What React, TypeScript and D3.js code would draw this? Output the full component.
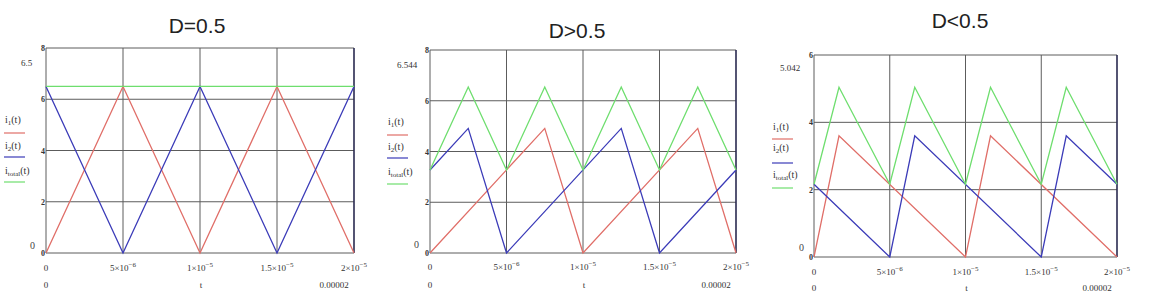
import React from "react";
import * as d3 from "d3";

// ---------- DATA ----------
const titles = ["D=0.5", "D>0.5", "D<0.5"];
const xTickValues = [0, 5e-6, 1e-5, 1.5e-5, 2e-5];
const xTickMantissa = ["0", "5", "1", "1.5", "2"];
const xTickExponent = ["", "−6", "−5", "−5", "−5"];
const topValueLabels = ["6.5", "6.544", "5.042"];
const yMaxes = [8, 8, 6];

// Panel 1 (D = 0.5)
const p1T = [0, 5e-6, 1e-5, 1.5e-5, 2e-5];
const p1I1 = [0, 6.5, 0, 6.5, 0];
const p1I2 = [6.5, 0, 6.5, 0, 6.5];
const p1Total = [6.5, 6.5, 6.5, 6.5, 6.5];

// Panel 2 (D > 0.5)
const p2T1 = [0, 7.5e-6, 1e-5, 1.75e-5, 2e-5];
const p2I1 = [0, 4.91, 0, 4.91, 0];
const p2T2 = [0, 2.5e-6, 5e-6, 1.25e-5, 1.5e-5, 2e-5];
const p2I2 = [3.27, 4.91, 0, 4.91, 0, 3.27];
const p2TT = [0, 2.5e-6, 5e-6, 7.5e-6, 1e-5, 1.25e-5, 1.5e-5, 1.75e-5, 2e-5];
const p2Total = [3.27, 6.54, 3.27, 6.54, 3.27, 6.54, 3.27, 6.54, 3.27];

// Panel 3 (D < 0.5)
const p3T1 = [0, 1.65e-6, 1e-5, 1.165e-5, 2e-5];
const p3I1 = [0, 3.6, 0, 3.6, 0];
const p3T2 = [0, 5e-6, 6.65e-6, 1.5e-5, 1.665e-5, 2e-5];
const p3I2 = [2.16, 0, 3.6, 0, 3.6, 2.16];
const p3TT = [0, 1.65e-6, 5e-6, 6.65e-6, 1e-5, 1.165e-5, 1.5e-5, 1.665e-5, 2e-5];
const p3Total = [2.16, 5.04, 2.16, 5.04, 2.16, 5.04, 2.16, 5.04, 2.16];

// ---------- STYLE / LAYOUT ----------
const RED = "#e06e68";
const BLUE = "#3b3bb8";
const GREEN = "#6ede6e";
const GRID = "#5c5c5c";
const SERIF = "'Liberation Serif', 'DejaVu Serif', serif";
const SANS = "'Liberation Sans', Arial, sans-serif";

type Series = { t: number[]; v: number[]; color: string };
type PanelCfg = {
  x0: number; x1: number; y0: number; y1: number;
  legendX: number; legendTextY: number[]; legendLineY: number[];
  title: string; titleX: number; titleY: number;
  topLabel: string; topLabelX: number; topLabelY: number;
  zeroLabelX: number; zeroLabelY: number;
  yMax: number; series: Series[];
  row1Y: number; row2Y: number;
};

const panels: PanelCfg[] = [
  {
    x0: 46, x1: 354, y0: 48, y1: 253,
    legendX: 5, legendTextY: [123, 149, 174], legendLineY: [133, 157, 182],
    title: titles[0], titleX: 197, titleY: 33,
    topLabel: topValueLabels[0], topLabelX: 21, topLabelY: 66,
    zeroLabelX: 30, zeroLabelY: 249,
    yMax: yMaxes[0],
    series: [
      { t: p1T, v: p1I1, color: RED },
      { t: p1T, v: p1I2, color: BLUE },
      { t: p1T, v: p1Total, color: GREEN },
    ],
    row1Y: 271, row2Y: 288,
  },
  {
    x0: 430, x1: 736, y0: 50, y1: 253,
    legendX: 388, legendTextY: [125, 150, 175], legendLineY: [135, 158, 184],
    title: titles[1], titleX: 577, titleY: 38,
    topLabel: topValueLabels[1], topLabelX: 397, topLabelY: 68,
    zeroLabelX: 414, zeroLabelY: 248,
    yMax: yMaxes[1],
    series: [
      { t: p2T1, v: p2I1, color: RED },
      { t: p2T2, v: p2I2, color: BLUE },
      { t: p2TT, v: p2Total, color: GREEN },
    ],
    row1Y: 270, row2Y: 288,
  },
  {
    x0: 814, x1: 1117, y0: 55, y1: 257,
    legendX: 773, legendTextY: [130, 151, 178], legendLineY: [139, 163, 188],
    title: titles[2], titleX: 960, titleY: 28,
    topLabel: topValueLabels[2], topLabelX: 780, topLabelY: 71,
    zeroLabelX: 799, zeroLabelY: 251,
    yMax: yMaxes[2],
    series: [
      { t: p3T1, v: p3I1, color: RED },
      { t: p3T2, v: p3I2, color: BLUE },
      { t: p3TT, v: p3Total, color: GREEN },
    ],
    row1Y: 275, row2Y: 291,
  },
];

const legendNames = ["1", "2", "total"];
const legendColors = [RED, BLUE, GREEN];

function Panel({ cfg }: { cfg: PanelCfg }) {
  const x = d3.scaleLinear().domain([0, 2e-5]).range([cfg.x0, cfg.x1]);
  const y = d3.scaleLinear().domain([0, cfg.yMax]).range([cfg.y1, cfg.y0]);
  const yTicks = d3.range(0, cfg.yMax + 0.001, 2);
  const line = d3.line<[number, number]>().x((d) => x(d[0])).y((d) => y(d[1]));

  return (
    <g>
      <text x={cfg.titleX} y={cfg.titleY} textAnchor="middle" fontFamily={SANS} fontSize={21} fill="#222">
        {cfg.title}
      </text>
      {/* horizontal grid */}
      {yTicks.map((v) => (
        <line key={"h" + v} x1={cfg.x0} x2={cfg.x1} y1={y(v)} y2={y(v)} stroke={GRID} strokeWidth={1} />
      ))}
      {/* vertical grid */}
      {xTickValues.map((v, i) => (
        <line key={"v" + i} x1={x(v)} x2={x(v)} y1={cfg.y0} y2={cfg.y1}
          stroke={i === xTickValues.length - 1 ? "#2a2a50" : GRID}
          strokeWidth={i === xTickValues.length - 1 ? 1.6 : 1} />
      ))}
      {/* series */}
      {cfg.series.map((s, i) => (
        <path key={"s" + i}
          d={line(s.t.map((t, k) => [t, s.v[k]] as [number, number])) || ""}
          fill="none" stroke={s.color} strokeWidth={1.3} />
      ))}
      {/* y tick labels */}
      {yTicks.map((v) => (
        <text key={"yl" + v} x={cfg.x0 - 1} y={y(v) + 3} textAnchor="end" fontFamily={SERIF} fontSize={8} fontWeight="bold" fill="#333">
          {v}
        </text>
      ))}
      <text x={cfg.topLabelX} y={cfg.topLabelY} fontFamily={SERIF} fontSize={9} fill="#333">{cfg.topLabel}</text>
      <text x={cfg.zeroLabelX} y={cfg.zeroLabelY} fontFamily={SERIF} fontSize={10} fill="#444">0</text>
      {/* legend */}
      {legendNames.map((n, i) => (
        <g key={"lg" + i}>
          <text x={cfg.legendX} y={cfg.legendTextY[i]} fontFamily={SERIF} fontSize={10} fill="#333">
            i<tspan fontSize={7} dy={2}>{n}</tspan><tspan dy={-2}>(t)</tspan>
          </text>
          <line x1={cfg.legendX - 1} x2={cfg.legendX + 20} y1={cfg.legendLineY[i]} y2={cfg.legendLineY[i]}
            stroke={legendColors[i]} strokeWidth={1.2} />
        </g>
      ))}
      {/* x tick labels */}
      {xTickValues.map((v, i) => (
        <text key={"xl" + i} x={x(v)} y={cfg.row1Y} textAnchor="middle" fontFamily={SERIF} fontSize={9} fill="#333">
          {xTickMantissa[i]}
          {xTickExponent[i] ? (
            <>
              {"×10"}
              <tspan fontSize={7} dy={-4}>{xTickExponent[i]}</tspan>
            </>
          ) : null}
        </text>
      ))}
      <text x={cfg.x0} y={cfg.row2Y} textAnchor="middle" fontFamily={SERIF} fontSize={9} fill="#333">0</text>
      <text x={x(1e-5) + 1} y={cfg.row2Y} textAnchor="middle" fontFamily={SERIF} fontSize={9} fill="#333">t</text>
      <text x={cfg.x1 - 20} y={cfg.row2Y} textAnchor="middle" fontFamily={SERIF} fontSize={9} fill="#333">0.00002</text>
    </g>
  );
}

export default function App() {
  return (
    <svg width={1150} height={300} style={{ position: "absolute", left: 0, top: 0, background: "#fff" }}>
      <rect x={0} y={0} width={1150} height={300} fill="#fff" />
      {panels.map((p, i) => (
        <Panel key={i} cfg={p} />
      ))}
    </svg>
  );
}
